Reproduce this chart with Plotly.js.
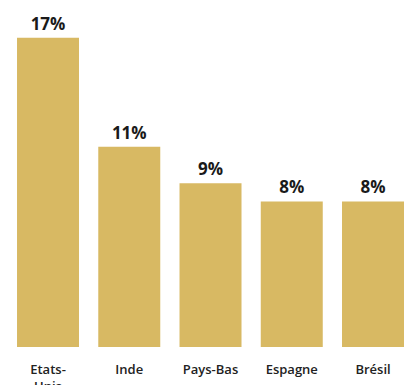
<!DOCTYPE html>
<html>
<head>
<meta charset="utf-8">
<script src="https://cdn.plot.ly/plotly-3.0.1.min.js"></script>
<style>html,body{margin:0;padding:0;background:#fff;overflow:hidden}#chart{width:409px;height:385px}</style>
</head>
<body>
<div id="chart"></div>
<script>
const categories = ["Etats-<br>Unis", "Inde", "Pays-Bas", "Espagne", "Brésil"];
const values = [17, 11, 9, 8, 8];
const labels = ["17%", "11%", "9%", "8%", "8%"];

const trace = {
  type: "bar",
  x: [0, 1, 2, 3, 4],
  y: values,
  text: labels,
  textposition: "outside",
  cliponaxis: false,
  textfont: {family: "'Open Sans', sans-serif", size: 17, color: "#1a1a1a", weight: 700},
  marker: {color: "#D8B963"},
  hoverinfo: "none"
};

const layout = {
  width: 409, height: 385,
  margin: {l: 0, r: 0, t: 0, b: 38},
  paper_bgcolor: "#fff", plot_bgcolor: "#fff",
  bargap: 0.237,
  showlegend: false,
  xaxis: {
    range: [-0.591, 4.443],
    tickmode: "array", tickvals: [0, 1, 2, 3, 4], ticktext: categories,
    showgrid: false, zeroline: false, showline: false, ticks: "",
    automargin: false,
    ticklabelstandoff: 13,
    tickfont: {family: "'Open Sans', sans-serif", size: 13, color: "#222", weight: 600}
  },
  yaxis: {
    range: [0, 19.07],
    visible: false, showgrid: false, zeroline: false
  }
};

Plotly.newPlot("chart", [trace], layout, {staticPlot: true, displayModeBar: false});
</script>
</body>
</html>
